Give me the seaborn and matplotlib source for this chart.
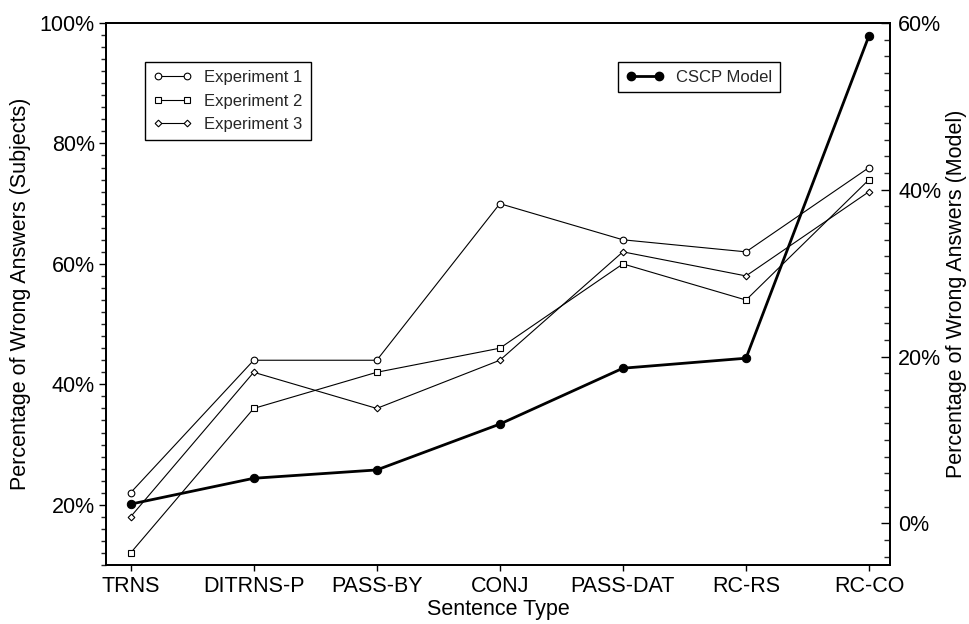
import matplotlib
matplotlib.use("Agg")
import matplotlib.pyplot as plt
import seaborn as sns
import numpy as np
from matplotlib.ticker import MultipleLocator, FuncFormatter
from matplotlib.lines import Line2D

categories = ["TRNS", "DITRNS-P", "PASS-BY", "CONJ", "PASS-DAT", "RC-RS", "RC-CO"]
exp1 = [22, 44, 44, 70, 64, 62, 76]
exp2 = [12, 36, 42, 46, 60, 54, 74]
exp3 = [18, 42, 36, 44, 62, 58, 72]
model = [2.3, 5.4, 6.4, 11.9, 18.6, 19.8, 58.5]

sns.set_theme(style="ticks")
plt.rcParams['font.family'] = ['Liberation Sans', 'DejaVu Sans']

fig = plt.figure(figsize=(9.69, 6.24), dpi=100)
ax = fig.add_axes([106 / 969, 59 / 624, 784 / 969, 542 / 624])
ax2 = ax.twinx()

x = np.arange(len(categories))
thin = dict(color='black', lw=0.8, markerfacecolor='white',
            markeredgecolor='black', markeredgewidth=0.8)
sns.lineplot(x=x, y=exp1, ax=ax, marker='o', markersize=4.8, sort=False, **thin)
sns.lineplot(x=x, y=exp2, ax=ax, marker='s', markersize=4.3, sort=False, **thin)
sns.lineplot(x=x, y=exp3, ax=ax, marker='D', markersize=3.4, sort=False, **thin)
sns.lineplot(x=x, y=model, ax=ax2, marker='o', markersize=6, color='black', lw=2,
             markerfacecolor='black', markeredgecolor='black', sort=False)

ax.set_xlim(-0.2, 6.17)
ax.set_ylim(10, 100)
ax2.set_ylim(-5, 60)

pct = FuncFormatter(lambda v, p: f"{v:.0f}%")
ax.yaxis.set_major_locator(MultipleLocator(20))
ax.yaxis.set_minor_locator(MultipleLocator(2))
ax.yaxis.set_major_formatter(pct)
ax2.yaxis.set_major_locator(MultipleLocator(20))
ax2.yaxis.set_minor_locator(MultipleLocator(2))
ax2.yaxis.set_major_formatter(pct)
ax.set_xticks(x)
ax.set_xticklabels(categories)

fs = 15.5
ax.tick_params(axis='x', which='both', direction='out', length=4, width=1, labelsize=fs,
               colors='black', top=False, pad=4)
ax.tick_params(axis='y', which='major', direction='out', length=5, width=1, labelsize=fs,
               colors='black', right=False, pad=3)
ax.tick_params(axis='y', which='minor', direction='out', length=3.5, width=1, right=False)
ax2.tick_params(axis='y', which='major', direction='in', length=6.5, width=1, labelsize=fs,
                colors='black', left=False, pad=6)
ax2.tick_params(axis='y', which='minor', direction='in', length=4, width=1, left=False)

for a in (ax, ax2):
    for s in a.spines.values():
        s.set_color('black')
        s.set_linewidth(1.3)
        s.set_visible(True)

ax.set_xlabel("Sentence Type", fontsize=fs, color='black', labelpad=1)
ax.set_ylabel("Percentage of Wrong Answers (Subjects)", fontsize=fs, color='black', labelpad=6)
ax2.set_ylabel("Percentage of Wrong Answers (Model)", fontsize=fs, color='black', labelpad=3)

h1 = [Line2D([], [], marker='o', markersize=4.8, **thin),
      Line2D([], [], marker='s', markersize=4.3, **thin),
      Line2D([], [], marker='D', markersize=3.4, **thin)]
leg1 = ax.legend(h1, ["Experiment 1", "Experiment 2", "Experiment 3"], loc='upper left',
                 bbox_to_anchor=((145 - 106) / 784, (565 - 62) / 542), borderaxespad=0,
                 fontsize=12, frameon=True, fancybox=False, edgecolor='black', framealpha=1,
                 handlelength=2.3, handletextpad=0.75, numpoints=2, labelspacing=0.5,
                 borderpad=0.5)
leg1.get_frame().set_linewidth(1.0)

h2 = [Line2D([], [], marker='o', markersize=6, color='black', lw=2)]
leg2 = ax2.legend(h2, ["CSCP Model"], loc='upper right',
                  bbox_to_anchor=((780 - 106) / 784, (565 - 62) / 542), borderaxespad=0,
                  fontsize=12, frameon=True, fancybox=False, edgecolor='black', framealpha=1,
                  handlelength=2.3, handletextpad=0.75, numpoints=2, borderpad=0.45)
leg2.get_frame().set_linewidth(1.0)

fig.savefig("out.png", dpi=100)
